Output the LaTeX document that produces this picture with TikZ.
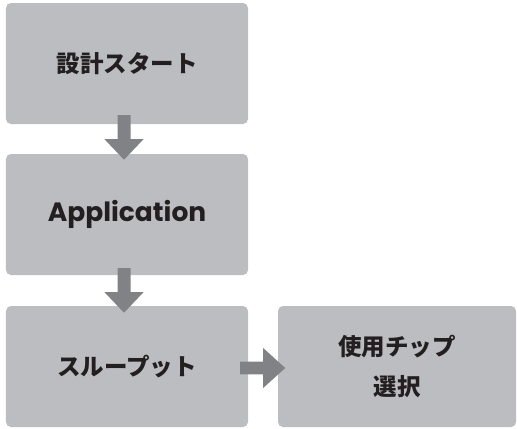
\documentclass[tikz,border=0pt]{standalone}
\usepackage{fontspec}
\usetikzlibrary{calc}
\setmainfont{Poppins}
\newfontfamily\jpfont{Noto Sans CJK JP}
\definecolor{boxgray}{HTML}{BCBDC0}
\definecolor{arrowgray}{HTML}{808285}
\definecolor{ink}{HTML}{231F20}
\begin{document}
\begin{tikzpicture}[x=1bp,y=-1bp,
  box/.style={fill=boxgray, rounded corners=5bp, minimum width=242bp, minimum height=121bp, inner sep=0pt, text=ink, align=center},
  jp/.style={font=\jpfont\bfseries\fontsize{23.5bp}{40bp}\selectfont},
  lat/.style={font=\bfseries\fontsize{26.5bp}{30bp}\selectfont},
  blockarrow/.style={fill=arrowgray}]
\useasboundingbox (0,0) rectangle (517,428);
\node[box, jp] (b1) at (127,63.5) {設計スタート};
\node[box, lat] (b2) at (127,214.5) {Application};
\node[box, jp] (b3) at (127,366.5) {スループット};
\node[box, jp, minimum width=238bp] (b4) at (397,366.5) {使用チップ\\選択};
\coordinate (a1) at ($(b1.south)+(-3,-9)$);
\coordinate (a2) at ($(b2.south)+(-3,-7)$);
\coordinate (a3) at ($(b3.east)+(-8,1.5)$);
\fill[blockarrow, shift={(a1)}] (-6.5,0) -- (6.5,0) -- (6.5,24) -- (19.5,24) -- (0,44.5) -- (-19.5,24) -- (-6.5,24) -- cycle;
\fill[blockarrow, shift={(a2)}] (-6.5,0) -- (6.5,0) -- (6.5,24) -- (19.5,24) -- (0,44.5) -- (-19.5,24) -- (-6.5,24) -- cycle;
\fill[blockarrow, shift={(a3)}] (0,-6.3) -- (23,-6.3) -- (23,-20) -- (45,0) -- (23,20) -- (23,6.3) -- (0,6.3) -- cycle;
\end{tikzpicture}
\end{document}
